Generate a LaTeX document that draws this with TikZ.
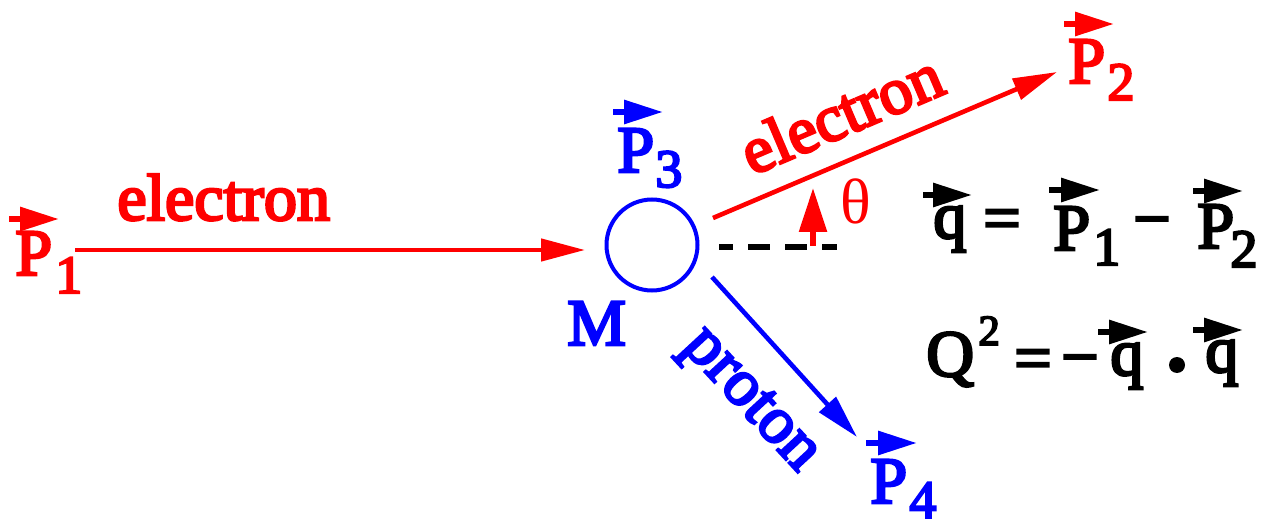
\documentclass[tikz,border=0pt]{standalone}
\usepackage{fontspec}
\setmainfont{Liberation Serif}[BoldFont={Liberation Serif}, BoldFeatures={FakeBold=4}]
\usetikzlibrary{arrows.meta}
\begin{document}
\begin{tikzpicture}[x=0.5pt,y=-0.5pt,
  lab/.style={font=\fontsize{33}{33}\selectfont\bfseries, inner sep=0pt, anchor=base west},
  sub/.style={font=\fontsize{27}{27}\selectfont\bfseries, inner sep=0pt, anchor=base west},
  sup/.style={font=\fontsize{21.5}{21.5}\selectfont\bfseries, inner sep=0pt, anchor=base west},
  sym/.style={font=\fontsize{33}{33}\selectfont\bfseries, inner sep=0pt, anchor=center},
  vecarr/.style={line width=3pt, -{Triangle[length=19.5pt,width=11.5pt]}},
  conn/.style={line width=2.3pt, -{Triangle[length=22pt,width=11pt]}},
]
\useasboundingbox (0,0) rectangle (1271,519);

% incoming electron
\node[lab, red] (p1) at (15,275) {P};
\node[sub, red] (p1s) at (55,293) {1};
\draw[vecarr, red] (9,219) -- (59,219);
\coordinate (e1s) at (75,250);
\coordinate (e1e) at (585,250);
\draw[conn, red] (e1s) -- (e1e);
\node[lab, red] (el1) at (117,220) {electron};

% target
\node[circle, draw=blue, line width=2pt, inner sep=0pt, minimum size=45.5pt] (M) at (652,245) {};
\node[lab, blue] (Mlab) at (567,345) {M};
\node[lab, blue] (p3) at (617,172) {P};
\node[sub, blue] (p3s) at (655,187) {3};
\draw[vecarr, blue] (613,112) -- (663,112);

% outgoing electron
\coordinate (e2s) at (713,218);
\coordinate (e2e) at (1057,72);
\draw[conn, red] (e2s) -- (e2e);
\node[lab, red, anchor=base, rotate=23.06] (el2) at (850,134) {electron};
\node[lab, red] (p2) at (1068,83) {P};
\node[sub, red] (p2s) at (1107,100) {2};
\draw[vecarr, red] (1064,24) -- (1114,24);

% angle
\coordinate (d0) at (719,247);
\coordinate (d1) at (837,247);
\draw[line width=2.8pt, dash pattern=on 11pt off 7.5pt, dash phase=4pt] (d0) -- (d1);
\coordinate (th0) at (813,246);
\coordinate (th1) at (813,188);
\draw[red, line width=2.8pt, -{Triangle[length=22pt,width=13.5pt]}] (th0) -- (th1);
\node[red, inner sep=0pt, anchor=base west, font=\fontsize{32}{32}\selectfont\mdseries] (theta) at (840,224) {θ};

% outgoing proton
\coordinate (ps) at (712,277);
\coordinate (pe) at (857,437);
\draw[conn, blue] (ps) -- (pe);
\node[lab, blue, anchor=base, rotate=-47.2] (pr) at (740,410) {proton};
\node[lab, blue] (p4) at (870,503) {P};
\node[sub, blue] (p4s) at (909,518) {4};
\draw[vecarr, blue] (866,443) -- (917,443);

% equation 1
\node[lab] (q1) at (933,238) {q};
\draw[vecarr] (923,195) -- (972,195);
\node[sym] (eqa) at (1002,225) {=};
\node[lab] (ep1) at (1053,250) {P};
\node[sub] (ep1s) at (1093,265) {1};
\draw[vecarr] (1049,190) -- (1100,190);
\node[sym] (mina) at (1152,229) {−};
\node[lab] (ep2) at (1197,248) {P};
\node[sub] (ep2s) at (1230,267) {2};
\draw[vecarr] (1193,191) -- (1243,191);

% equation 2
\node[lab] (Q) at (926,376) {Q};
\node[sup] (Qs) at (978,345) {2};
\node[sym] (eqb) at (1033,365) {=};
\node[sym] (minb) at (1080,367) {−};
\node[lab] (q2) at (1110,375) {q};
\draw[vecarr] (1098,332) -- (1148,332);
\node[circle, fill=black, inner sep=0pt, minimum size=8pt] (dot) at (1177,365) {};
\node[lab] (q3) at (1205,372) {q};
\draw[vecarr] (1193,330) -- (1243,330);
\end{tikzpicture}
\end{document}
